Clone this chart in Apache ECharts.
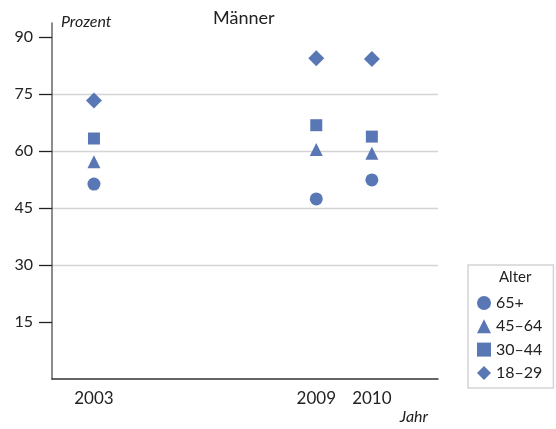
<!DOCTYPE html>
<html>
<head>
<meta charset="utf-8">
<script src="https://cdn.jsdelivr.net/npm/echarts@6/dist/echarts.min.js"></script>
<style>html,body{margin:0;padding:0;background:#fff}#c{width:556px;height:429px}</style>
</head>
<body>
<div id="c"></div>
<script>
// Timeline slots on the x axis (uneven spacing as in the original)
var timeline = ['2003', '', '', '', '2009', '2010'];
var years = ['2003', '2009', '2010'];
var yTicks = [15, 30, 45, 60, 75, 90];
var seriesNames = ['65+', '45–64', '30–44', '18–29'];
var age65 = [51.3, 47.4, 52.4];
var age45 = [57.2, 60.4, 59.4];
var age30 = [63.3, 66.8, 63.8];
var age18 = [73.3, 84.4, 84.2];

var symbols = ['circle', 'triangle', 'rect', 'diamond'];
var sizes = [13, 13, 12, 16];
var color = '#5a77b5';
var font = 'Lato';

function pts(vals) {
  return years.map(function (y, i) { return [timeline.indexOf(y), vals[i]]; });
}
var allVals = [age65, age45, age30, age18];

var chart = echarts.init(document.getElementById('c'), null, {renderer: 'canvas'});
chart.setOption({
  animation: false,
  textStyle: {fontFamily: font},
  title: [
    {text: 'Männer', left: 213, top: 9, padding: 0, textStyle: {fontFamily: font, fontSize: 18, fontWeight: 'normal', color: '#222'}},
    {text: 'Alter', left: 499, top: 270, padding: 0, textStyle: {fontFamily: font, fontSize: 15, fontWeight: 'normal', color: '#222'}}
  ],
  grid: {left: 52, right: 118, top: 23, bottom: 50},
  legend: {
    orient: 'vertical',
    left: 468, top: 265,
    data: seriesNames,
    itemWidth: 14, itemHeight: 14, itemGap: 7.3,
    padding: [30, 11, 7, 9],
    borderColor: '#d4d4d4', borderWidth: 1.5,
    textStyle: {fontFamily: font, fontSize: 16, color: '#222'}
  },
  xAxis: {
    type: 'value',
    min: -0.755, max: 6.19,
    name: 'Jahr', nameLocation: 'end', nameGap: -10,
    nameTextStyle: {fontStyle: 'italic', fontSize: 16, color: '#222', align: 'right', verticalAlign: 'top', padding: [30, 0, 0, 0]},
    axisLine: {lineStyle: {color: '#333', width: 1.5}},
    axisTick: {show: false},
    splitLine: {show: false},
    axisLabel: {
      customValues: years.map(function (y) { return timeline.indexOf(y); }),
      formatter: function (v) { return timeline[Math.round(v)]; },
      fontSize: 17, color: '#222', margin: 11
    }
  },
  yAxis: {
    type: 'value',
    min: 0, max: 93.7,
    name: 'Prozent', nameLocation: 'end', nameGap: -7,
    nameTextStyle: {fontStyle: 'italic', fontSize: 16, color: '#222', align: 'left', padding: [0, 0, 0, 9]},
    axisLine: {show: true, onZero: false, lineStyle: {color: '#666', width: 1.5}},
    axisTick: {show: true, customValues: yTicks, length: 13, lineStyle: {color: '#222', width: 1.3}},
    axisLabel: {customValues: yTicks, fontSize: 16, color: '#222', margin: 19},
    splitLine: {show: true, showMinLine: false, showMaxLine: false, lineStyle: {color: '#d4d4d4', width: 1.3}},
    interval: 15
  },
  series: seriesNames.map(function (n, i) {
    return {
      name: n, type: 'scatter',
      symbol: symbols[i], symbolSize: sizes[i],
      itemStyle: {color: color, opacity: 1},
      data: pts(allVals[i])
    };
  })
});
</script>
</body>
</html>
